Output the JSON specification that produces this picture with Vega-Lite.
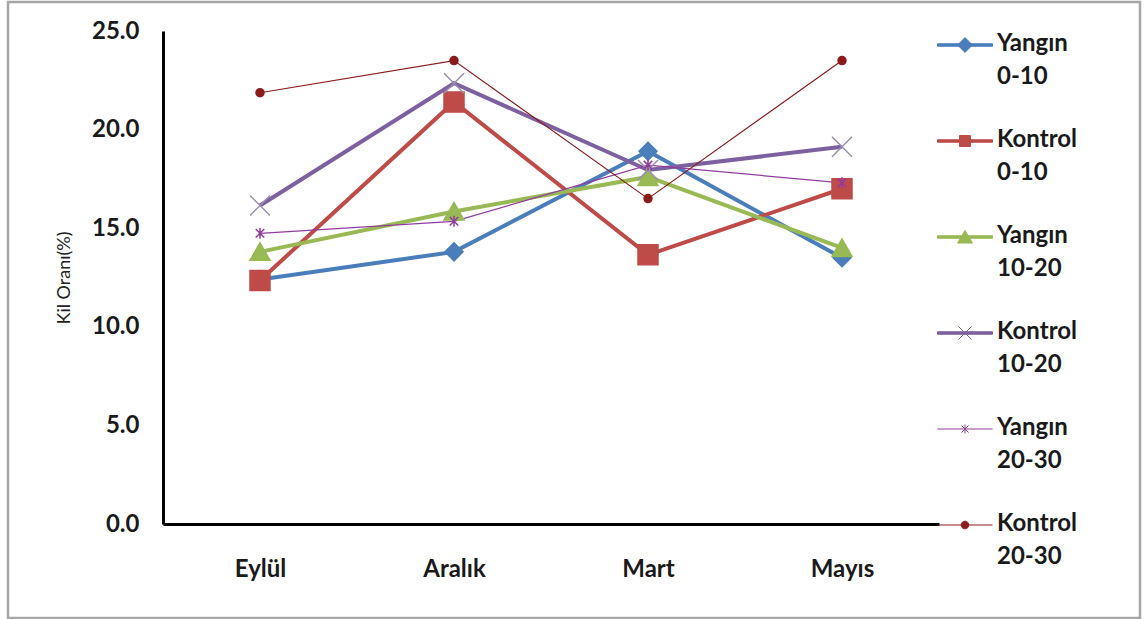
{
  "$schema": "https://vega.github.io/schema/vega-lite/v6.json",
  "width": 1132,
  "height": 616,
  "padding": {"left": 8, "top": 2, "right": 4, "bottom": 1},
  "autosize": {"type": "none"},
  "background": "#ffffff",
  "config": {
    "view": {"stroke": "#a6a6a6", "strokeWidth": 2.5},
    "font": "Lato",
    "axis": {
      "grid": false,
      "ticks": false,
      "tickSize": 0,
      "domainColor": "#000000",
      "domainWidth": 3,
      "labelFont": "Lato",
      "labelFontSize": 24,
      "labelFontWeight": "bold",
      "labelColor": "#1a1a1a"
    }
  },
  "data": {
    "values": [
      {"ay": "Eylül", "seri": "Yangın 0-10", "kil": 12.4},
      {"ay": "Aralık", "seri": "Yangın 0-10", "kil": 13.8},
      {"ay": "Mart", "seri": "Yangın 0-10", "kil": 18.9},
      {"ay": "Mayıs", "seri": "Yangın 0-10", "kil": 13.5},
      {"ay": "Eylül", "seri": "Kontrol 0-10", "kil": 12.35},
      {"ay": "Aralık", "seri": "Kontrol 0-10", "kil": 21.4},
      {"ay": "Mart", "seri": "Kontrol 0-10", "kil": 13.65},
      {"ay": "Mayıs", "seri": "Kontrol 0-10", "kil": 17.0},
      {"ay": "Eylül", "seri": "Yangın 10-20", "kil": 13.8},
      {"ay": "Aralık", "seri": "Yangın 10-20", "kil": 15.85},
      {"ay": "Mart", "seri": "Yangın 10-20", "kil": 17.6},
      {"ay": "Mayıs", "seri": "Yangın 10-20", "kil": 14.0},
      {"ay": "Eylül", "seri": "Kontrol 10-20", "kil": 16.15},
      {"ay": "Aralık", "seri": "Kontrol 10-20", "kil": 22.35},
      {"ay": "Mart", "seri": "Kontrol 10-20", "kil": 17.95},
      {"ay": "Mayıs", "seri": "Kontrol 10-20", "kil": 19.13},
      {"ay": "Eylül", "seri": "Yangın 20-30", "kil": 14.74},
      {"ay": "Aralık", "seri": "Yangın 20-30", "kil": 15.35},
      {"ay": "Mart", "seri": "Yangın 20-30", "kil": 18.2},
      {"ay": "Mayıs", "seri": "Yangın 20-30", "kil": 17.3},
      {"ay": "Eylül", "seri": "Kontrol 20-30", "kil": 21.87},
      {"ay": "Aralık", "seri": "Kontrol 20-30", "kil": 23.5},
      {"ay": "Mart", "seri": "Kontrol 20-30", "kil": 16.5},
      {"ay": "Mayıs", "seri": "Kontrol 20-30", "kil": 23.5}
    ]
  },
  "encoding": {
    "x": {
      "field": "ay",
      "type": "ordinal",
      "sort": ["Eylül", "Aralık", "Mart", "Mayıs"],
      "scale": {"type": "point", "range": [155, 931], "padding": 0.5},
      "axis": {"title": null, "orient": "bottom", "offset": -94, "labelAngle": 0, "labelPadding": 33}
    },
    "y": {
      "field": "kil",
      "type": "quantitative",
      "scale": {"domain": [0, 25], "range": [522, 29], "nice": false, "zero": true},
      "axis": {
        "title": "Kil Oranı(%)",
        "titleFont": "Lato",
        "titleFontSize": 18,
        "titleFontWeight": "normal",
        "titleColor": "#222222",
        "titlePadding": 18,
        "orient": "left",
        "offset": -155,
        "values": [0, 5, 10, 15, 20, 25],
        "format": ".1f",
        "labelPadding": 24
      }
    }
  },
  "layer": [
    {
      "mark": {"type": "line", "opacity": 1},
      "encoding": {
        "color": {
          "field": "seri",
          "type": "nominal",
          "scale": {
            "domain": ["Yangın 0-10", "Kontrol 0-10", "Yangın 10-20", "Kontrol 10-20", "Yangın 20-30", "Kontrol 20-30"],
            "range": ["#4a7ebb", "#be4b48", "#98b954", "#7d60a0", "#933c9f", "#8c1c1c"]
          },
          "legend": {
            "title": null,
            "orient": "none",
            "direction": "vertical",
            "columns": 1,
            "legendX": 929,
            "legendY": 15,
            "rowPadding": 24,
            "labelOffset": 4,
            "symbolSize": 3025,
            "labelFont": "Lato",
            "labelFontSize": 24,
            "labelFontWeight": "bold",
            "labelColor": "#1a1a1a",
            "labelLimit": 300,
            "labelBaseline": "top",
            "labelExpr": "split(datum.label, ' ')",
            "encoding": {
              "symbols": {
                "shape": {"value": {"expr": "['M-1,-0.045H1V0.045H-1Z M0,-0.27L0.27,0L0,0.27L-0.27,0Z', 'M-1,-0.045H1V0.045H-1Z M-0.2,-0.2H0.2V0.2H-0.2Z', 'M-1,-0.045H1V0.045H-1Z M0,-0.24L0.27,0.22H-0.27Z', 'M-1,-0.045H1V0.045H-1Z M-0.24,-0.24L0.24,0.24M-0.24,0.24L0.24,-0.24', 'M-1,0H1 M-0.13,-0.13L0.13,0.13M-0.13,0.13L0.13,-0.13M0,-0.16V0.16', 'M-1,0H1 M-0.14,0A0.14,0.14,0,1,0,0.14,0A0.14,0.14,0,1,0,-0.14,0Z'][indexof(['Yangın 0-10', 'Kontrol 0-10', 'Yangın 10-20', 'Kontrol 10-20', 'Yangın 20-30', 'Kontrol 20-30'], datum.value)]"}},
                "fill": {"value": {"expr": "scale('color', datum.value)"}},
                "strokeWidth": {"value": 1},
                "opacity": {"value": 1},
                "size": {"value": 3025}
              },
              "labels": {
                "lineHeight": {"value": 33},
                "dy": {"value": -13}
              }
            }
          }
        },
        "strokeWidth": {
          "condition": {"test": "indexof(['Yangın 20-30', 'Kontrol 20-30'], datum.seri) >= 0", "value": 1.2},
          "value": 4
        }
      }
    },
    {
      "mark": {"type": "point", "opacity": 1, "strokeWidth": 1.5},
      "encoding": {
        "shape": {
          "condition": [
            {"test": "datum.seri === 'Yangın 0-10'", "value": "diamond"},
            {"test": "datum.seri === 'Kontrol 0-10'", "value": "square"},
            {"test": "datum.seri === 'Yangın 10-20'", "value": "M0,-0.9L1,0.85H-1Z"},
            {"test": "datum.seri === 'Kontrol 10-20'", "value": "M-1,-1L1,1M-1,1L1,-1"},
            {"test": "datum.seri === 'Yangın 20-30'", "value": "M-1,-1L1,1M-1,1L1,-1M0,-1.3V1.3"}
          ],
          "value": "circle"
        },
        "size": {
          "condition": [
            {"test": "datum.seri === 'Yangın 0-10'", "value": 324},
            {"test": "datum.seri === 'Yangın 20-30'", "value": 72},
            {"test": "datum.seri === 'Kontrol 20-30'", "value": 64}
          ],
          "value": 400
        },
        "fill": {
          "condition": [
            {"test": "datum.seri === 'Yangın 0-10'", "value": "#4a7ebb"},
            {"test": "datum.seri === 'Kontrol 0-10'", "value": "#be4b48"},
            {"test": "datum.seri === 'Yangın 10-20'", "value": "#98b954"},
            {"test": "datum.seri === 'Kontrol 20-30'", "value": "#8c1c1c"}
          ],
          "value": "transparent"
        },
        "stroke": {
          "condition": [
            {"test": "datum.seri === 'Yangın 0-10'", "value": "#4a7ebb"},
            {"test": "datum.seri === 'Kontrol 0-10'", "value": "#be4b48"},
            {"test": "datum.seri === 'Yangın 10-20'", "value": "#98b954"},
            {"test": "datum.seri === 'Kontrol 10-20'", "value": "#9a8fb2"},
            {"test": "datum.seri === 'Yangın 20-30'", "value": "#933c9f"}
          ],
          "value": "#8c1c1c"
        }
      }
    }
  ]
}
